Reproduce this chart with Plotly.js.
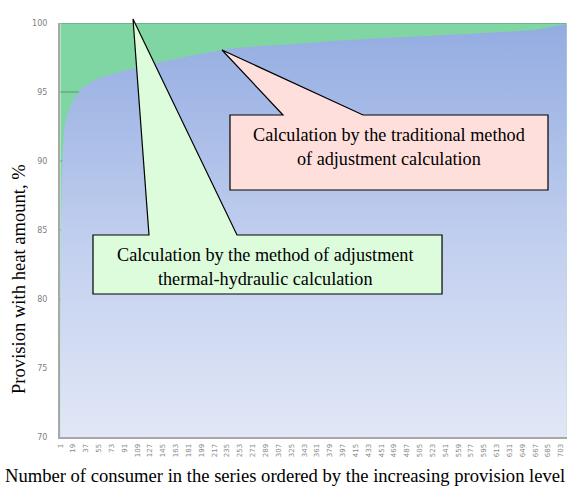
<!DOCTYPE html>
<html>
<head>
<meta charset="utf-8">
<script src="https://cdn.plot.ly/plotly-3.0.1.min.js"></script>
<style>html,body{margin:0;padding:0;background:#fff;}#chart{width:569px;height:486px;}</style>
</head>
<body>
<div id="chart"></div>
<script>
// Consumer index (ordered by increasing provision level) and provision, %
var consumerIdx = [1, 2, 3, 4, 6, 8, 11, 18, 32, 55, 78, 102, 125, 149, 172, 196, 242, 289, 336, 382, 429, 476, 523, 570, 617, 664, 687, 711];
// Traditional method of adjustment calculation
var traditional = [76, 85, 88.5, 90.3, 91.8, 92.8, 93.4, 94.3, 95.3, 96.0, 96.35, 96.7, 97.0, 97.25, 97.5, 97.75, 98.15, 98.35, 98.5, 98.7, 98.84, 98.96, 99.08, 99.2, 99.35, 99.5, 99.7, 99.93];
// Method of adjustment thermal-hydraulic calculation
var thermalHydraulic = [100, 100, 100, 100, 100, 100, 100, 100, 100, 100, 100, 100, 100, 100, 100, 100, 100, 100, 100, 100, 100, 100, 100, 100, 100, 100, 100, 100];
// Tick labels
var xTicks = [1, 19, 37, 55, 73, 91, 109, 127, 145, 163, 181, 199, 217, 235, 253, 271, 289, 307, 325, 343, 361, 379, 397, 415, 433, 451, 469, 487, 505, 523, 541, 559, 577, 595, 613, 631, 649, 667, 685, 703];
var yTicks = [70, 75, 80, 85, 90, 95, 100];
var gridLevels = [75, 80, 85, 90, 95, 100];

var W = 569, H = 486;
var L = 60, R = 2, T = 23, B = 49;
var PW = W - L - R, PH = H - T - B;
function fx(px) { return (px - L) / PW; }
function fy(py) { return (H - B - py) / PH; }
function pathOf(pts) {
  return 'M' + pts.map(function (p) { return fx(p[0]).toFixed(4) + ',' + fy(p[1]).toFixed(4); }).join(' L') + ' Z';
}

// gridline trace (drawn over green, hidden under blue)
var gx = [], gy = [];
gridLevels.forEach(function (v) {
  gx.push(consumerIdx[0], consumerIdx[consumerIdx.length - 1], null);
  gy.push(v, v, null);
});

var traces = [
  {
    x: consumerIdx, y: thermalHydraulic, type: 'scatter', mode: 'lines',
    fill: 'tozeroy', fillcolor: '#80d6a3', line: { width: 0, color: '#80d6a3' },
    hoverinfo: 'skip', showlegend: false
  },
  {
    x: gx, y: gy, type: 'scatter', mode: 'lines',
    line: { width: 1.5, color: 'rgba(60,90,75,0.35)' },
    hoverinfo: 'skip', showlegend: false, connectgaps: false
  },
  {
    x: consumerIdx, y: traditional, type: 'scatter', mode: 'lines',
    fill: 'tozeroy', line: { width: 0, color: '#98b1e2', shape: 'spline', smoothing: 0.6 },
    fillgradient: { type: 'vertical', start: 70, stop: 100,
      colorscale: [[0, '#e1e7f6'], [0.45, '#c3d0ef'], [1, '#93ace1']] },
    hoverinfo: 'skip', showlegend: false
  }
];

var serif = 'Liberation Serif, Times New Roman, serif';
var layout = {
  width: W, height: H,
  margin: { l: L, r: R, t: T, b: B, pad: 0 },
  paper_bgcolor: '#ffffff', plot_bgcolor: '#ffffff',
  showlegend: false,
  xaxis: {
    range: [0.5, 711.5], tickmode: 'array', tickvals: xTicks, ticktext: xTicks.map(String),
    tickangle: -90, tickfont: { family: 'DejaVu Sans, sans-serif', size: 7, color: '#8a8a8a' },
    showgrid: false, zeroline: false, showline: true, linecolor: '#a8a8a8', linewidth: 2,
    ticks: '', ticklabelstandoff: 2, fixedrange: true
  },
  yaxis: {
    range: [70, 100], tickmode: 'array', tickvals: yTicks, ticktext: yTicks.map(String),
    tickfont: { family: 'DejaVu Sans, sans-serif', size: 8, color: '#808080' },
    showgrid: false, zeroline: false, showline: true, linecolor: '#a8a8a8', linewidth: 2,
    ticks: '', ticklabelstandoff: 9, fixedrange: true
  },
  shapes: [
    { type: 'path', xref: 'paper', yref: 'paper',
      path: pathOf([[93, 235], [149, 235], [133, 19], [237, 235], [442, 235], [442, 294], [93, 294]]),
      fillcolor: '#dcfcdc', line: { color: '#000000', width: 1.2 } },
    { type: 'path', xref: 'paper', yref: 'paper',
      path: pathOf([[230, 115], [283, 115], [222, 50], [363, 115], [548, 115], [548, 190], [230, 190]]),
      fillcolor: '#ffdfdb', line: { color: '#000000', width: 1.2 } }
  ],
  annotations: [
    { xref: 'paper', yref: 'paper', x: fx(265), y: fy(267), xanchor: 'center', yanchor: 'middle',
      showarrow: false, align: 'center',
      text: 'Calculation by the method of adjustment<br>thermal-hydraulic calculation',
      font: { family: serif, size: 18.2, color: '#000' } },
    { xref: 'paper', yref: 'paper', x: fx(389), y: fy(147), xanchor: 'center', yanchor: 'middle',
      showarrow: false, align: 'center',
      text: 'Calculation by the traditional method<br>of adjustment calculation',
      font: { family: serif, size: 18.2, color: '#000' } },
    { xref: 'paper', yref: 'paper', x: fx(285), y: fy(475), xanchor: 'center', yanchor: 'middle',
      showarrow: false,
      text: 'Number of consumer in the series ordered by the increasing provision level',
      font: { family: serif, size: 18.6, color: '#000' } },
    { xref: 'paper', yref: 'paper', x: fx(18), y: fy(279), xanchor: 'center', yanchor: 'middle',
      showarrow: false, textangle: -90,
      text: 'Provision with heat amount, %',
      font: { family: serif, size: 18.6, color: '#000' } }
  ]
};

Plotly.newPlot('chart', traces, layout, { displayModeBar: false, staticPlot: true });
</script>
</body>
</html>
